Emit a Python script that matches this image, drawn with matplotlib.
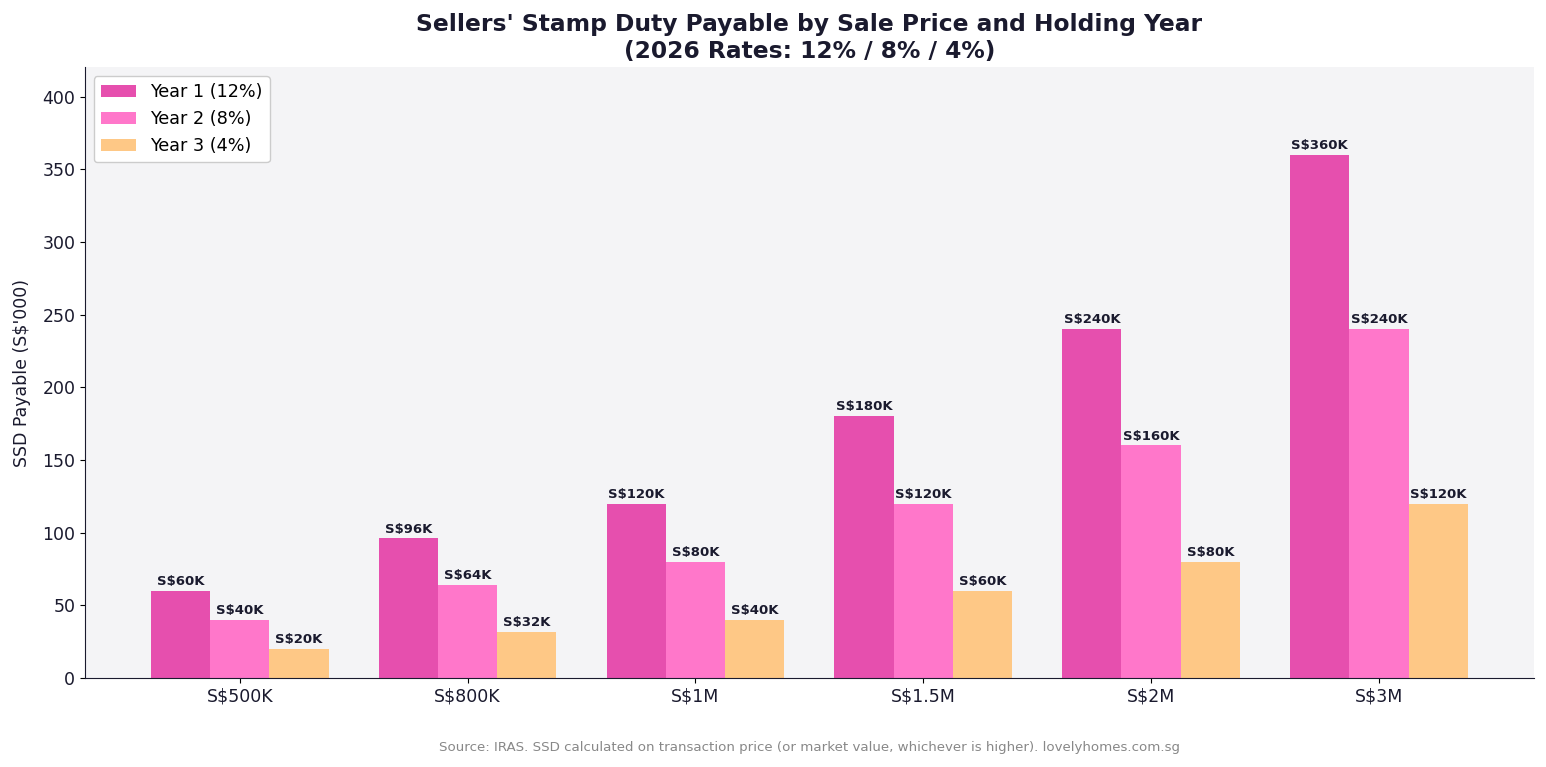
import matplotlib
matplotlib.use("Agg")
import matplotlib.pyplot as plt
import numpy as np

# Sale price categories and SSD payable (S$'000)
prices = ["S$500K", "S$800K", "S$1M", "S$1.5M", "S$2M", "S$3M"]
year1 = [60, 96, 120, 180, 240, 360]
year2 = [40, 64, 80, 120, 160, 240]
year3 = [20, 32, 40, 60, 80, 120]
series_labels = ["Year 1 (12%)", "Year 2 (8%)", "Year 3 (4%)"]
colors = ["#E64FAE", "#FF77CA", "#FEC886"]

TEXT = "#1a1a2e"

fig, ax = plt.subplots(figsize=(15.46, 7.67), dpi=100)
fig.subplots_adjust(left=0.055, right=0.992, top=0.912, bottom=0.116)
ax.set_facecolor("#f4f4f6")

x = np.arange(len(prices))
width = 0.26
for i, (vals, lab, col) in enumerate(zip([year1, year2, year3], series_labels, colors)):
    bars = ax.bar(x + (i - 1) * width, vals, width, label=lab, color=col, zorder=2)
    for b, v in zip(bars, vals):
        ax.text(b.get_x() + b.get_width() / 2, v + 2, f"S${v}K",
                ha="center", va="bottom", fontsize=9.5, fontweight="bold", color=TEXT)

ax.set_ylim(0, 420)
ax.set_xticks(x)
ax.set_xticklabels(prices, fontsize=12.5, color=TEXT)
ax.tick_params(axis="y", labelsize=12.5, labelcolor=TEXT)
ax.set_ylabel("SSD Payable (S$'000)", fontsize=12.5, color=TEXT, labelpad=8)
ax.set_title("Sellers' Stamp Duty Payable by Sale Price and Holding Year\n(2026 Rates: 12% / 8% / 4%)",
             fontsize=16.8, fontweight="bold", color=TEXT, pad=7)

for s in ["top", "right"]:
    ax.spines[s].set_visible(False)
for s in ["left", "bottom"]:
    ax.spines[s].set_color(TEXT)

ax.legend(loc="upper left", fontsize=12.7, framealpha=1.0, edgecolor="#cccccc")

# source note centred under the axes
ax.text(0.5, -0.103, "Source: IRAS. SSD calculated on transaction price (or market value, whichever is higher). lovelyhomes.com.sg",
        transform=ax.transAxes, ha="center", va="top", fontsize=9.65, color="#888888")

fig.savefig("out.png", dpi=100)
